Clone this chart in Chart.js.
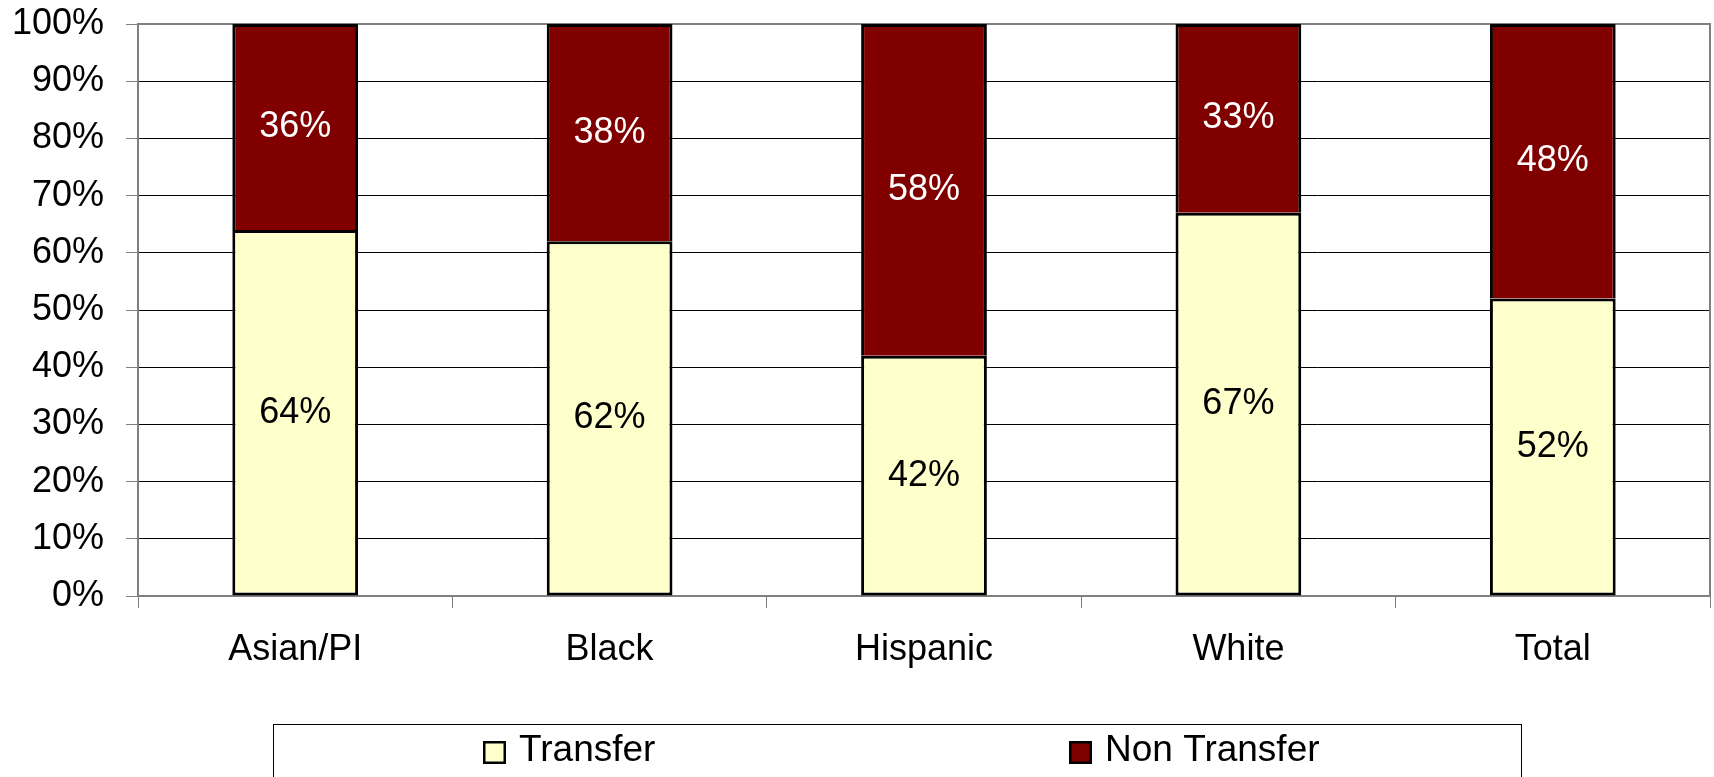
<!DOCTYPE html>
<html>
<head>
<meta charset="utf-8">
<script src="https://cdn.jsdelivr.net/npm/chart.js@4.4.1/dist/chart.umd.min.js"></script>
<style>
    html, body { margin: 0; padding: 0; background: #fff; }
</style>
</head>
<body>
<canvas id="barChart" width="1714" height="777"></canvas>
<script>
var categories = ['Asian/PI', 'Black', 'Hispanic', 'White', 'Total'];
var transferValues = [64, 62, 42, 67, 52];
var nonTransferValues = [36, 38, 58, 33, 48];
var seriesNames = ['Transfer', 'Non Transfer'];

Chart.defaults.font.family = '"Liberation Sans", Arial, sans-serif';
Chart.defaults.font.size = 36;
Chart.defaults.color = '#000';

// grey frame round the plot area, under the bars
var plotFrame = {
    id: 'plotFrame',
    beforeDatasetsDraw: function (chart) {
        var a = chart.chartArea, ctx = chart.ctx;
        ctx.save();
        ctx.strokeStyle = '#808080';
        ctx.lineWidth = 2;
        ctx.strokeRect(a.left, a.top, a.right - a.left, a.bottom - a.top);
        ctx.restore();
    }
};

// percent labels in the middle of each segment
var barLabels = {
    id: 'barLabels',
    afterDatasetsDraw: function (chart) {
        var ctx = chart.ctx;
        chart.data.datasets.forEach(function (ds, i) {
            chart.getDatasetMeta(i).data.forEach(function (bar, j) {
                var p = bar.getProps(['x', 'y', 'base'], true);
                ctx.save();
                ctx.fillStyle = ds.labelColor;
                ctx.font = '36px "Liberation Sans", Arial, sans-serif';
                ctx.textAlign = 'center';
                ctx.textBaseline = 'middle';
                ctx.fillText(ds.data[j] + '%', p.x, (p.y + p.base) / 2);
                ctx.restore();
            });
        });
    }
};

// boxed legend at the bottom
var boxLegend = {
    id: 'boxLegend',
    afterDraw: function (chart) {
        var ctx = chart.ctx;
        var itemX = [483, 1069];
        ctx.save();
        ctx.strokeStyle = '#000';
        ctx.lineWidth = 1;
        ctx.strokeRect(273.5, 724.5, 1248, 80);
        chart.data.datasets.forEach(function (ds, i) {
            var x = itemX[i];
            ctx.fillStyle = ds.backgroundColor;
            ctx.fillRect(x, 741, 23, 23);
            ctx.lineWidth = 2.5;
            ctx.strokeRect(x + 1.25, 742.25, 20.5, 20.5);
            ctx.fillStyle = '#000';
            ctx.font = '37px "Liberation Sans", Arial, sans-serif';
            ctx.textBaseline = 'alphabetic';
            ctx.fillText(ds.label, x + 36, 761);
        });
        ctx.restore();
    }
};

var barChart = new Chart(document.getElementById('barChart').getContext('2d'), {
    type: 'bar',
    data: {
        labels: categories,
        datasets: [
            {
                label: seriesNames[0],
                data: transferValues,
                backgroundColor: '#ffffcc',
                borderColor: '#000',
                borderWidth: 3,
                borderSkipped: false,
                labelColor: '#000'
            },
            {
                label: seriesNames[1],
                data: nonTransferValues,
                backgroundColor: '#800000',
                borderColor: '#000',
                borderWidth: 3,
                borderSkipped: 'start',
                labelColor: '#fff'
            }
        ]
    },
    options: {
        responsive: false,
        animation: false,
        devicePixelRatio: 1,
        layout: { padding: { top: 24, right: 4, left: 0, bottom: 0 } },
        datasets: { bar: { barPercentage: 0.4, categoryPercentage: 1 } },
        plugins: {
            legend: { display: false },
            tooltip: { enabled: false }
        },
        scales: {
            x: {
                stacked: true,
                grid: { drawOnChartArea: false, tickLength: 12, color: '#808080', offset: true },
                border: { color: '#808080', width: 2 },
                ticks: { padding: 20, color: '#000' },
                afterFit: function (s) {
                    s.height = 181;
                    s.paddingLeft = 0;
                    s.paddingRight = 0;
                }
            },
            y: {
                stacked: true,
                min: 0,
                max: 100,
                ticks: {
                    stepSize: 10,
                    padding: 22,
                    color: '#000',
                    callback: function (v) { return v + '%'; }
                },
                grid: { color: '#000', lineWidth: 1, tickLength: 12, tickColor: '#808080' },
                border: { color: '#808080', width: 2 },
                afterFit: function (s) {
                    s.width = 138;
                    s.paddingTop = 0;
                    s.paddingBottom = 0;
                }
            }
        }
    },
    plugins: [plotFrame, barLabels, boxLegend]
});
</script>
</body>
</html>
